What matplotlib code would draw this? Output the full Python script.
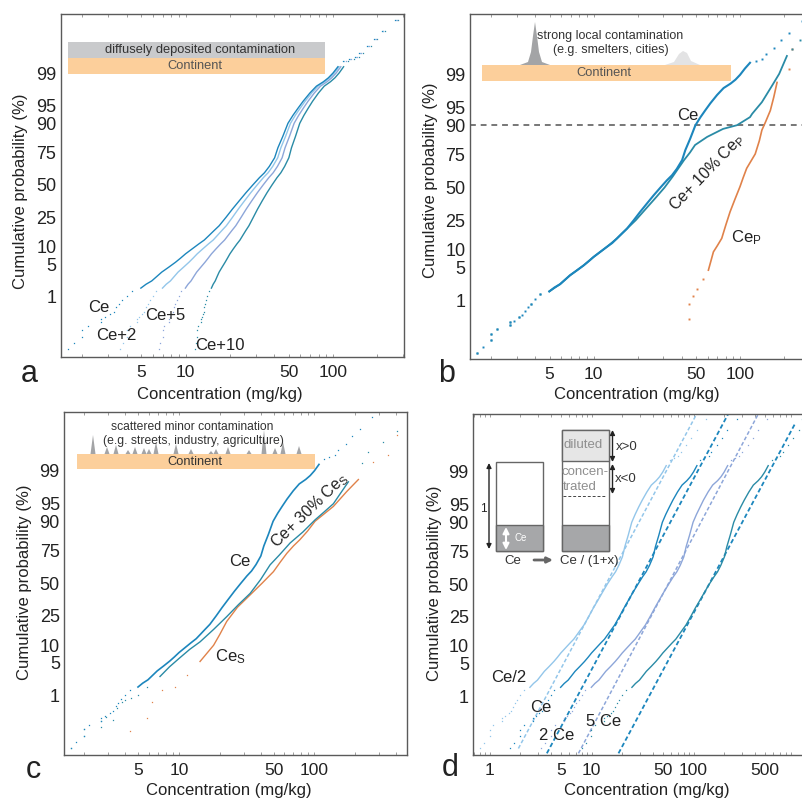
import numpy as np
import matplotlib
matplotlib.use("Agg")
import matplotlib.pyplot as plt
from matplotlib.patches import Rectangle, Polygon
from matplotlib.ticker import NullLocator, NullFormatter
from statistics import NormalDist

plt.rcParams['font.family'] = ['Liberation Sans', 'DejaVu Sans']
plt.rcParams['mathtext.default'] = 'regular'

# cumulative probability (%) shared by the Ce curves
prob = [0.032, 0.05, 0.08, 0.126, 0.17, 0.22, 0.27, 0.3, 0.37, 0.42, 0.55, 0.68, 0.82, 1.05, 1.4, 1.6, 1.95, 2.3,
        2.87, 3.5, 4.36, 5.4, 6.4, 7.6, 9.2, 11, 12.6, 14.6, 17.1, 19.8, 25, 30.8, 37, 43.6, 50, 56, 60, 65, 71.4,
        78, 84.4, 90, 92.6, 94.5, 95.9, 97.2, 98, 98.4, 98.7, 99, 99.3, 99.5, 99.55, 99.6, 99.7, 99.8, 99.88, 99.93,
        99.97]

# panel a
ce = [1.6, 1.75, 1.99, 1.99, 2.18, 2.67, 2.67, 2.85, 3.07, 3.25, 3.4, 3.55, 3.73, 4.0, 4.33, 4.98, 5.4, 5.9,
      6.4, 6.9, 7.69, 8.55, 9.25, 10, 11.1, 12.3, 13.4, 14.4, 15.6, 16.9, 18.8, 20.8, 23.1, 25.7, 28.6, 31.7, 34.3,
      37, 40.2, 42.3, 45.7, 49.5, 53.5, 58, 62.7, 69.7, 77.2, 86, 93, 100, 108, 117, 128, 141, 150, 170, 190, 215, 265]
ce_2 = [3.6, 3.75, 3.99, 3.99, 4.18, 4.67, 4.67, 4.85, 5.07, 5.25, 5.4, 5.55, 5.73, 6.0, 6.33, 6.98, 7.4, 7.9,
        8.4, 8.9, 9.69, 10.55, 11.25, 12, 13.1, 14.3, 15.4, 16.4, 17.6, 18.9, 20.8, 22.8, 25.1, 27.7, 30.6, 33.7, 36.3,
        39, 42.2, 44.3, 47.7, 51.5, 55.5, 60, 64.7, 71.7, 79.2, 88, 95, 102, 110, 119, 130, 143, 152, 172, 192, 217, 267]
ce_5 = [6.6, 6.75, 6.99, 6.99, 7.18, 7.67, 7.67, 7.85, 8.07, 8.25, 8.4, 8.55, 8.73, 9.0, 9.33, 9.98, 10.4, 10.9,
        11.4, 11.9, 12.69, 13.55, 14.25, 15, 16.1, 17.3, 18.4, 19.4, 20.6, 21.9, 23.8, 25.8, 28.1, 30.7, 33.6, 36.7, 39.3,
        42, 45.2, 47.3, 50.7, 54.5, 58.5, 63, 67.7, 74.7, 82.2, 91, 98, 105, 113, 122, 133, 146, 155, 175, 195, 220, 270]
ce_10 = [11.6, 11.75, 11.99, 11.99, 12.18, 12.67, 12.67, 12.85, 13.07, 13.25, 13.4, 13.55, 13.73, 14.0, 14.33, 14.98,
         15.4, 15.9, 16.4, 16.9, 17.69, 18.55, 19.25, 20, 21.1, 22.3, 23.4, 24.4, 25.6, 26.9, 28.8, 30.8, 33.1, 35.7,
         38.6, 41.7, 44.3, 47, 50.2, 52.3, 55.7, 59.5, 63.5, 68, 72.7, 79.7, 87.2, 96, 103, 110, 118, 127, 138, 151,
         160, 180, 200, 225, 275]

# panel b
mix10_x = [1.6, 1.99, 1.99, 2.18, 2.67, 2.67, 3.07, 3.73, 4.33, 4.98, 5.9, 6.9, 8.55, 10, 12.3, 14.4, 16.9,
           19.4, 22.3, 26.7, 30.5, 34.5, 41.5, 45.5, 49.3, 59.6, 76.6, 95.4, 117, 121, 141, 165, 185, 209, 226, 257]
mix10_y = [0.032, 0.08, 0.126, 0.17, 0.22, 0.27, 0.37, 0.82, 1.4, 1.6, 2.3, 3.5, 5.4, 7.6, 11, 14.6, 19.8,
           25, 32, 42, 50, 58.6, 71.5, 76.5, 81, 85.2, 88.7, 90.1, 92.7, 93.6, 96.1, 98.2, 99.05, 99.67, 99.79,
           99.885]
cep_x = [44.9, 45.1, 48, 51.2, 56.2, 60.8, 65.8, 70, 75, 80, 85.5, 92, 100, 105, 111, 127, 135.5, 141, 149, 161,
         170, 179, 217, 226]
cep_y = [0.33, 0.8, 1.27, 1.78, 3, 4.4, 9.2, 11.5, 14.7, 22, 30.8, 40, 50.8, 58, 65.4, 75.6, 83.3, 88.2, 91.1, 94.4,
         96.9, 98.5, 99.29, 99.79]

# panel c
mix30_x = [1.6, 2.0, 2.0, 2.65, 2.67, 2.9, 3.27, 3.5, 3.77, 4, 4.4, 5, 5.77, 7.24, 8.5, 10, 12, 14.3, 18, 22.5, 27.5,
           33.5, 40, 47, 55, 66, 82, 101, 118, 138, 155, 178, 224, 250, 323, 405]
mix30_y = [0.032, 0.08, 0.126, 0.15, 0.22, 0.28, 0.23, 0.5, 0.71, 0.8, 0.9, 1.05, 1.6, 2.7, 4.2, 6, 8.6, 11.3, 17, 24.5,
           33, 41.7, 53, 64.8, 72, 79.7, 85.5, 90.5, 93, 95, 96.8, 98.2, 99.35, 99.67, 99.83, 99.92]
ces_x = [4.34, 5.77, 6.3, 7.45, 9.3, 11.4, 14.3, 18, 20, 22.5, 27, 33.5, 41, 49.8, 56, 62.5, 70, 78, 89, 101, 138, 173,
         211, 272, 351, 405]
ces_y = [0.11, 0.26, 0.71, 1.4, 1.6, 2.9, 5.3, 10, 14.5, 21.5, 31, 40.5, 50, 59.5, 67, 73.2, 78, 81.6, 86, 90, 94.4,
         97.1, 98.4, 99.4, 99.6, 99.89]

# panel d
ce_half = [0.8, 0.875, 1, 1, 1.09, 1.34, 1.34, 1.43, 1.54, 1.63, 1.7, 1.78, 1.87, 2, 2.17, 2.49, 2.7, 2.95, 3.2, 3.45,
           3.85, 4.28, 4.63, 5, 5.55, 6.15, 6.7, 7.2, 7.8, 8.45, 9.4, 10.4, 11.6, 12.9, 14.3, 15.9, 17.2, 18.5, 20.1,
           21.2, 22.9, 24.8, 26.8, 29, 31.4, 34.9, 38.6, 43, 46.5, 50, 54, 58.5, 64, 70.5, 75, 85, 95, 108, 133]
ce_x2 = [3.2, 3.5, 3.98, 3.98, 4.36, 5.34, 5.34, 5.7, 6.14, 6.5, 6.8, 7.1, 7.46, 8, 8.66, 9.96, 10.8, 11.8, 12.8, 13.8,
         15.4, 17.1, 18.5, 20, 22.2, 24.6, 26.8, 28.8, 31.2, 33.8, 37.6, 41.6, 46.2, 51.4, 57.2, 63.4, 68.6, 74, 80.4,
         84.6, 91.4, 99, 107, 116, 125, 139, 154, 172, 186, 200, 216, 234, 256, 282, 300, 340, 380, 430, 530]
ce_x5 = [8, 8.75, 9.95, 9.95, 10.9, 13.4, 13.4, 14.3, 15.4, 16.3, 17, 17.8, 18.7, 20, 21.7, 24.9, 27, 29.5, 32, 34.5,
         38.5, 42.8, 46.3, 50, 55.5, 61.5, 67, 72, 78, 84.5, 94, 104, 116, 129, 143, 159, 172, 185, 201, 212, 229, 248,
         268, 290, 314, 349, 386, 430, 465, 500, 540, 585, 640, 705, 750, 850, 950, 1075, 1150]
fit_half_x = [1.92, 108]
fit_half_y = [0.032, 99.98]
fit_ce_x = [3.65, 220]
fit_ce_y = [0.022, 99.98]
fit_2_x = [7.45, 434]
fit_2_y = [0.022, 99.98]
fit_5_x = [18.4, 992]
fit_5_y = [0.022, 99.957]

y_ticks = [1, 5, 10, 25, 50, 75, 90, 95, 99]
x_ticks = [5, 10, 50, 100]
x_ticks_d = [1, 5, 10, 50, 100, 500]

blue = '#1c86bd'
light = '#93c6ea'
lilac = '#8da6d9'
teal = '#2a8ba6'
orange = '#e0824a'


def pct_to_z(p):
    p = np.clip(np.asarray(p, dtype=float), 1e-5, 100 - 1e-5)
    return np.vectorize(lambda v: NormalDist().inv_cdf(v / 100), otypes=[float])(p)


def z_to_pct(z):
    z = np.clip(np.asarray(z, dtype=float), -6, 6)
    return np.vectorize(lambda v: NormalDist().cdf(v) * 100, otypes=[float])(z)


W, H = 802, 798
fig = plt.figure(figsize=(W / 100, H / 100), dpi=100)

over = fig.add_axes([0, 0, 1, 1], zorder=10)
over.set_xlim(0, W)
over.set_ylim(H, 0)
over.axis('off')
over.patch.set_alpha(0)


def panel(left, right, top, bottom, xlim, ylim, xt, xlabel_at, ylabel_at, open_right=False):
    ax = fig.add_axes([left / W, 1 - bottom / H, (right - left) / W, (bottom - top) / H])
    ax.set_xscale('log')
    ax.set_yscale('function', functions=(pct_to_z, z_to_pct))
    ax.set_xlim(*xlim)
    ax.set_ylim(*ylim)
    ax.set_yticks(y_ticks)
    ax.set_yticklabels([str(t) for t in y_ticks], fontsize=13, color='#222222')
    ax.set_xticks(xt)
    ax.set_xticklabels([str(t) for t in xt], fontsize=12.5, color='#222222')
    ax.yaxis.set_minor_locator(NullLocator())
    ax.xaxis.set_minor_formatter(NullFormatter())
    ax.tick_params(axis='x', which='both', direction='in', length=2, width=0.5, color='#777777', pad=6, top=True)
    ax.tick_params(axis='y', which='both', direction='in', length=0, pad=3)
    for s in ax.spines.values():
        s.set_color('#5a5a5a')
        s.set_linewidth(1.0)
    if open_right:
        ax.spines['right'].set_visible(False)
    ax.set_xlabel('Concentration (mg/kg)', fontsize=12, color='#222222', va='center')
    ax.xaxis.set_label_coords(xlabel_at[0], xlabel_at[1], transform=over.transData)
    ax.set_ylabel('Cumulative probability (%)', fontsize=12, color='#222222', va='center')
    ax.yaxis.set_label_coords(ylabel_at[0], ylabel_at[1], transform=over.transData)
    return ax


def curve(ax, x, y, color, lw=1.0, low=1.5, high=99.3, ms=0.9):
    x = np.array(x)
    y = np.array(y)
    body = (y >= low) & (y <= high)
    ax.plot(x[body], y[body], color=color, lw=lw, zorder=3)
    ax.plot(x[~body], y[~body], ls='none', marker='s', ms=ms, mew=0, color=color, zorder=3)


def label(x, y, s, size=12, color='#222222', rot=0):
    over.text(x, y, s, fontsize=size, color=color, ha='center', va='center', rotation=rot,
              rotation_mode='anchor')


def box(x0, y0, x1, y1, color, edge='none', lw=0):
    over.add_patch(Rectangle((x0, y0), x1 - x0, y1 - y0, facecolor=color, edgecolor=edge, linewidth=lw))


def arrow(x0, y0, x1, y1, color='#222222', style='<|-|>', lw=1.0, scale=7):
    over.annotate('', xy=(x1, y1), xytext=(x0, y0),
                  arrowprops=dict(arrowstyle=style, color=color, lw=lw, mutation_scale=scale,
                                  shrinkA=0, shrinkB=0))


# a
ax_a = panel(60.5, 404, 14, 357, (1.42, 303), (0.0174, 99.981), x_ticks, (220, 394), (21, 191))
curve(ax_a, ce_10, prob, teal)
curve(ax_a, ce_5, prob, lilac)
curve(ax_a, ce_2, prob, light)
curve(ax_a, ce, prob, blue)

box(68, 42, 325, 58, '#c9cacc')
box(68, 58, 325, 74, '#fccf9b')
label(200, 50.5, 'diffusely deposited contamination', 9.3, '#333333')
label(195, 66, 'Continent', 9.3, '#555555')
label(98.5, 307, 'Ce')
label(116, 335, 'Ce+2')
label(165, 315, 'Ce+5')
label(220, 345, 'Ce+10')
label(29.5, 373.5, 'a', 22)

# b
ax_b = panel(469.5, 802, 14, 359, (1.42, 265), (0.02, 99.983), x_ticks, (637, 394), (431, 180), open_right=True)
ax_b.axhline(90, color='#777777', lw=1.4, ls=(0, (3, 2.5)), zorder=2)
curve(ax_b, cep_x, cep_y, orange, lw=1.2, low=4, high=98.6, ms=1.4)
curve(ax_b, mix10_x, mix10_y, teal, lw=1.3, high=99.7, ms=1.4)
curve(ax_b, ce, prob, blue, lw=1.5, high=99.5, ms=1.4)

box(481.5, 65, 730.5, 80.5, '#fccf9b')
over.add_patch(Polygon([(520, 65), (528, 62), (531, 52), (533, 36), (535, 22), (537, 36), (539, 52), (542, 62),
                        (550, 65)], facecolor='#a3a4a6', edgecolor='none'))
over.add_patch(Polygon([(665, 65), (674, 62), (679, 54), (683, 51), (687, 53), (691, 61), (700, 65)],
                       facecolor='#e3e3e4', edgecolor='none'))
label(610, 35.5, 'strong local contamination', 9, '#333333')
label(611, 49.5, '(e.g. smelters, cities)', 9, '#333333')
label(604, 73, 'Continent', 9.3, '#555555')
label(688, 115, 'Ce')
label(707, 173, 'Ce+ 10% Ce$_{P}$', 11.5, rot=46)
label(746, 238, 'Ce$_{P}$')
label(446.5, 374, 'b', 22)

# c
ax_c = panel(64, 407, 412, 755, (1.416, 482), (0.0193, 99.98), x_ticks, (229, 790), (25, 582))
curve(ax_c, ces_x, ces_y, orange, low=4.5, high=98.5)
curve(ax_c, mix30_x, mix30_y, teal, low=2.5, high=98.5)
curve(ax_c, ce, prob, blue, lw=1.2)

box(77, 454, 314.5, 469, '#fccf9b')
peak_x = [93, 107, 116, 128, 135, 144, 149, 156, 176, 191, 211, 216, 228, 249, 264, 275, 283, 299]
peak_top = [435, 447, 445, 450, 447, 448, 449, 442, 444, 449, 451, 449, 447, 450, 430, 448, 442, 446]
for px, pt in zip(peak_x, peak_top):
    over.add_patch(Polygon([(px - 2.5, 454), (px, pt), (px + 2.5, 454)], facecolor='#a3a4a6', edgecolor='none'))
label(192.5, 427.5, 'scattered minor contamination', 8.7, '#333333')
label(193, 441, '(e.g. streets, industry, agriculture)', 8.7, '#333333')
label(194.5, 462, 'Continent', 9.3, '#333333')
label(240, 562, 'Ce')
label(310, 510, 'Ce+ 30% Ce$_{S}$', 11.5, rot=44)
label(230, 657, 'Ce$_{S}$')
label(33, 769.5, 'c', 22)

# d
ax_d = panel(473, 802, 413.5, 755, (0.689, 1158), (0.0193, 99.98), x_ticks_d, (647, 790), (434, 583), open_right=True)
curve(ax_d, ce_half, prob, light)
curve(ax_d, ce, prob, blue)
curve(ax_d, ce_x2, prob, lilac)
curve(ax_d, ce_x5, prob, teal)
dash = (0, (2.5, 1.5))
ax_d.plot(fit_half_x, fit_half_y, color=light, lw=1.1, ls=dash)
ax_d.plot(fit_ce_x, fit_ce_y, color=blue, lw=1.3, ls=dash)
ax_d.plot(fit_2_x, fit_2_y, color=lilac, lw=1.1, ls=dash)
ax_d.plot(fit_5_x, fit_5_y, color=blue, lw=1.3, ls=dash)

box(496, 462, 543, 551, 'white', '#666666', 1)
box(496, 524.5, 543, 551, '#a6a7a9', '#666666', 1)
box(562, 430, 609, 551, 'white', '#666666', 1)
box(562, 430, 609, 461, '#e6e6e6', '#666666', 1)
box(562, 524.5, 609, 551, '#a6a7a9', '#666666', 1)
over.plot([563, 606], [496, 496], color='#444444', lw=0.7, ls=(0, (3, 2)))
arrow(489, 463, 489, 549)
arrow(506, 527, 506, 550, color='white', lw=1.5, scale=9)
arrow(612.5, 430, 612.5, 462)
arrow(612.5, 464, 612.5, 494)
arrow(534, 560, 553, 560, color='#666666', style='-|>', lw=2, scale=8)
label(483, 509, '1', 8.5)
label(521, 538, 'Ce', 7, 'white')
label(513, 561, 'Ce', 9.5, '#333333')
label(589, 561, 'Ce / (1+x)', 9.5, '#333333')
label(627, 447, 'x>0', 9.5, '#333333')
label(626, 478.5, 'x<0', 9.5, '#333333')
label(583, 445.5, 'diluted', 9.5, '#8f8f8f')
label(585, 472, 'concen-', 9.5, '#8f8f8f')
label(580, 486.5, 'trated', 9.5, '#8f8f8f')
label(509, 677, 'Ce/2')
label(541, 708, 'Ce')
label(557, 735, '2 Ce')
label(604, 722, '5 Ce')
label(450.5, 767.5, 'd', 22)

fig.savefig('out.png', dpi=100)
